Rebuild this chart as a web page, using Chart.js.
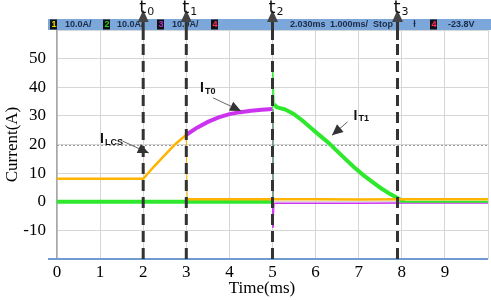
<!DOCTYPE html>
<html>
<head>
<meta charset="utf-8">
<script src="https://cdn.jsdelivr.net/npm/chart.js@4"></script>
<style>
  body { margin: 0; background: #fff; }
  #wrap { width: 491px; height: 300px; }
</style>
</head>
<body>
<div id="wrap"><canvas id="scope_chart" width="491" height="300"></canvas></div>
<script>
// DATA (time in ms, current in A)
const lcsTime    = [0, 1, 2, 2.25, 2.5, 2.75, 3, 3.02, 4, 5, 6, 7, 8, 9, 10];
const lcsCurrent = [8, 8, 8, 12.3, 16.3, 20.2, 23.4, 0.9, 0.9, 0.9, 0.9, 0.8, 0.9, 0.9, 0.9];

const t0Time    = [3, 3.25, 3.5, 3.75, 4, 4.25, 4.5, 4.75, 5, 5.01, 5.04, 6, 7, 8, 9, 10];
const t0Current = [23.4, 25.9, 27.9, 29.5, 30.6, 31.3, 31.8, 32.1, 32.4, -9, -0.5, -0.5, -0.5, -0.4, -0.4, -0.4];

const t1Time    = [0, 1, 2, 3, 4, 5, 5.005, 5.04, 5.1, 5.3, 5.5, 5.7, 5.9, 6.1, 6.3, 6.5, 6.7, 6.9, 7.1, 7.3, 7.5, 7.7, 7.9, 8.05, 9, 10];
const t1Current = [0, 0, 0, 0, 0, 0, 47.5, 34, 33, 32.2, 30.6, 28.3, 25.7, 23.1, 20.6, 17.7, 14.8, 12, 9.4, 7.1, 4.9, 3, 1.3, 0, 0, 0];

// event markers
const markerTimes  = [2, 3, 5, 7.9];
const markerLabels = ['0', '1', '2', '3'];

// text labels with arrows: [main, sub, text t, text A, arrow from t, from A, to t, to A]
const notes = [
	['I', 'LCS', 1.0, 21.7, 1.52, 21.2, 2.13, 17.0],
	['I', 'T0', 3.32, 39.6, 3.62, 36.3, 4.27, 31.7],
	['I', 'T1', 6.88, 30.0, 6.74, 27.9, 6.38, 23.2]
];

const xTicksMax = 10;
const yHidden = [60, -20];

function toPoints(xs, ys){
	return xs.map((x, i) => ({ x: x, y: ys[i] }));
}

// thin stroke on the near-vertical jumps
function jumpWidth(thick, thin){
	return ctx => Math.abs(ctx.p1.parsed.x - ctx.p0.parsed.x) < 0.05 ? thin : thick;
}

function drawArrowHead(c, x1, y1, x2, y2, len, half){
	let a = Math.atan2(y2 - y1, x2 - x1);
	c.beginPath();
	c.moveTo(x2, y2);
	c.lineTo(x2 - len * Math.cos(a) + half * Math.sin(a), y2 - len * Math.sin(a) - half * Math.cos(a));
	c.lineTo(x2 - len * Math.cos(a) - half * Math.sin(a), y2 - len * Math.sin(a) + half * Math.cos(a));
	c.closePath();
	c.fill();
}

const scopeDecor = {
	id: 'scopeDecor',
	beforeDatasetsDraw(chart){
		const c = chart.ctx, ys = chart.scales.y, area = chart.chartArea;
		// dotted trigger level line
		c.save();
		c.strokeStyle = '#9a9a9a';
		c.lineWidth = 1;
		c.setLineDash([2, 2]);
		let y20 = Math.round(ys.getPixelForValue(20)) + 0.5;
		c.beginPath();
		c.moveTo(area.left, y20);
		c.lineTo(area.right, y20);
		c.stroke();
		c.restore();
	},
	afterDatasetsDraw(chart){
		const c = chart.ctx, xs = chart.scales.x, ys = chart.scales.y, area = chart.chartArea;
		c.save();

		// bottom blue frame line
		c.strokeStyle = '#6f9bd0';
		c.lineWidth = 2;
		c.beginPath();
		c.moveTo(area.left - 9, area.bottom);
		c.lineTo(area.right, area.bottom);
		c.stroke();

		// header bar
		c.fillStyle = '#7ba7da';
		c.fillRect(area.left - 9, area.top - 11, chart.width - area.left + 9, 11);
		c.font = 'bold 9px "Liberation Sans"';
		c.textBaseline = 'middle';
		const hy = area.top - 5.5;
		const boxes = [[50, '1', '#e8d800'], [103, '2', '#22cc22'], [157, '3', '#b030d0'], [211, '4', '#ff3060'], [430, '4', '#ff3060']];
		boxes.forEach(b => {
			c.fillStyle = '#111';
			c.fillRect(b[0], hy - 5, 7, 10);
			c.fillStyle = b[2];
			c.fillText(b[1], b[0] + 1.5, hy);
		});
		c.fillStyle = '#1c2b48';
		[[65, '10.0A/'], [117, '10.0A/'], [172, '10.0A/'], [290, '2.030ms'], [330, '1.000ms/'], [373, 'Stop'], [413, 'ɫ'], [448, '-23.8V']].forEach(t => {
			c.fillText(t[1], t[0], hy);
		});

		// dashed event markers with arrows
		markerTimes.forEach((t, i) => {
			let x = xs.getPixelForValue(t);
			c.strokeStyle = '#333';
			c.fillStyle = '#444';
			c.lineWidth = 3;
			c.setLineDash([]);
			c.beginPath();
			c.moveTo(x, 20);
			c.lineTo(x, 40);
			c.stroke();
			c.setLineDash([11, 6]);
			c.beginPath();
			c.moveTo(x, 44);
			c.lineTo(x, area.bottom + 2);
			c.stroke();
			c.setLineDash([]);
			c.beginPath();
			c.moveTo(x, 10);
			c.lineTo(x - 5.5, 22);
			c.lineTo(x + 5.5, 22);
			c.closePath();
			c.fill();
			c.fillStyle = '#111';
			c.textBaseline = 'alphabetic';
			c.font = '18px "DejaVu Sans"';
			c.fillText('t', x - 4, 13);
			c.font = '11px "DejaVu Sans"';
			c.fillText(markerLabels[i], x + 4, 15);
		});

		// curve labels
		notes.forEach(n => {
			let tx = xs.getPixelForValue(n[2]), ty = ys.getPixelForValue(n[3]);
			c.fillStyle = '#111';
			c.textBaseline = 'middle';
			c.font = 'bold 14px "Liberation Sans"';
			c.fillText(n[0], tx, ty);
			let w = c.measureText(n[0]).width;
			c.font = 'bold 9px "Liberation Sans"';
			c.fillText(n[1], tx + w + 1, ty + 3);
			let x1 = xs.getPixelForValue(n[4]), y1 = ys.getPixelForValue(n[5]);
			let x2 = xs.getPixelForValue(n[6]), y2 = ys.getPixelForValue(n[7]);
			c.strokeStyle = '#666';
			c.lineWidth = 1;
			c.beginPath();
			c.moveTo(x1, y1);
			c.lineTo(x2, y2);
			c.stroke();
			c.fillStyle = '#333';
			drawArrowHead(c, x1, y1, x2, y2, 11, 5);
		});

		// x axis title
		c.fillStyle = '#000';
		c.font = '17px "Liberation Serif"';
		c.textAlign = 'center';
		c.textBaseline = 'middle';
		c.fillText('Time(ms)', 262, 289);
		c.restore();
	}
};

const ctx = document.getElementById('scope_chart').getContext('2d');
const tickFont = { family: '"Liberation Serif", serif', size: 17 };

new Chart(ctx, {
	type: 'scatter',
	data: {
		datasets: [{
			label: 'ILCS',
			data: toPoints(lcsTime, lcsCurrent),
			showLine: true,
			borderColor: '#ffb400',
			borderWidth: 3,
			pointRadius: 0,
			segment: { borderWidth: jumpWidth(2.5, 1) }
		}, {
			label: 'IT1',
			data: toPoints(t1Time, t1Current),
			showLine: true,
			borderColor: '#2ee82e',
			borderWidth: 4,
			pointRadius: 0,
			segment: {
				borderWidth: ctx => {
					if (Math.abs(ctx.p1.parsed.x - ctx.p0.parsed.x) < 0.05) return 1;
					if (ctx.p0.parsed.x >= 8) return 2;
					return 4;
				}
			}
		}, {
			label: 'IT0',
			data: toPoints(t0Time, t0Current),
			showLine: true,
			borderColor: '#cc33ee',
			borderWidth: 4,
			pointRadius: 0,
			segment: {
				borderWidth: ctx => {
					if (Math.abs(ctx.p1.parsed.x - ctx.p0.parsed.x) < 0.05) return 1;
					if (ctx.p0.parsed.x >= 5) return 1.5;
					return 4;
				}
			}
		}]
	},
	options: {
		responsive: false,
		animation: false,
		layout: { padding: { top: 30, right: 3, left: 0, bottom: 0 } },
		plugins: {
			legend: { display: false },
			tooltip: { enabled: false }
		},
		scales: {
			x: {
				type: 'linear',
				min: 0,
				max: xTicksMax,
				afterFit: scale => { scale.height = 41; },
				ticks: {
					stepSize: 1,
					padding: 3,
					color: '#000',
					font: tickFont,
					callback: v => v === xTicksMax ? '' : v
				},
				grid: { color: '#d6d6d6', lineWidth: 1, drawTicks: false },
				border: { display: false }
			},
			y: {
				min: -20,
				max: 60,
				afterFit: scale => { scale.width = 57; },
				ticks: {
					stepSize: 10,
					padding: 11,
					color: '#000',
					font: tickFont,
					callback: v => yHidden.includes(v) ? '' : v
				},
				grid: { color: '#d6d6d6', lineWidth: 1, drawTicks: false },
				border: { color: '#a8a8a8', width: 1.5 },
				title: {
					display: true,
					text: 'Current(A)',
					color: '#000',
					font: { family: '"Liberation Serif", serif', size: 17 },
					padding: { top: 2, bottom: 0 }
				}
			}
		}
	},
	plugins: [scopeDecor]
});
</script>
</body>
</html>
